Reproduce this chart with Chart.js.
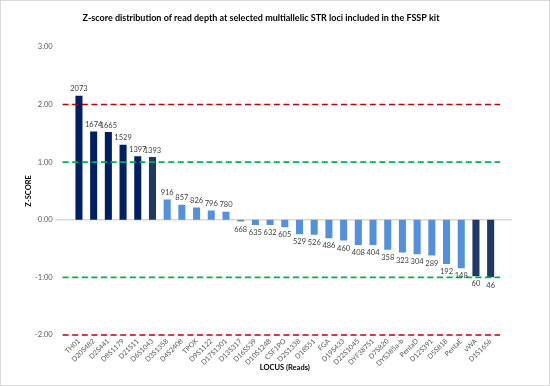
<!DOCTYPE html>
<html>
<head>
<meta charset="utf-8">
<script src="https://cdn.jsdelivr.net/npm/chart.js@4.4.1/dist/chart.umd.min.js"></script>
<style>
  html, body { margin: 0; padding: 0; background: #fff; }
</style>
</head>
<body>
<canvas id="zScoreChart" width="550" height="386"></canvas>
<script>
const loci = ['TH01', 'D20S482', 'D2S441', 'D8S1179', 'D21S11', 'D6S1043', 'D3S1358', 'D4S2408',
  'TPOX', 'D9S1122', 'D17S1301', 'D13S317', 'D16S539', 'D10S1248', 'CSF1PO', 'D2S1338', 'D18S51',
  'FGA', 'D19S433', 'D22S1045', 'DYF387S1', 'D7S820', 'DYS385a-b', 'PentaD', 'D12S391', 'D5S818',
  'PentaE', 'vWA', 'D1S1656'];
const reads = [2073, 1674, 1665, 1529, 1397, 1393, 916, 857, 826, 796, 780, 668, 635, 632, 605,
  529, 526, 486, 460, 408, 404, 358, 323, 304, 289, 192, 148, 60, 46];
const zScores = [2.15, 1.53, 1.52, 1.30, 1.10, 1.09, 0.35, 0.26, 0.21, 0.16, 0.14, -0.03, -0.09,
  -0.09, -0.13, -0.25, -0.26, -0.32, -0.36, -0.44, -0.44, -0.52, -0.57, -0.60, -0.62, -0.77,
  -0.84, -0.98, -1.00];
const thresholds = [2, 1, -1, -2];
const thresholdColors = ['#C00000', '#00B050', '#00B050', '#C00000'];

const NAVY = '#002060';
const SLATE = '#1F3864';
const LIGHT = '#5590D8';
const barColors = loci.map((l, i) => (i < 5 ? NAVY : (i === 5 || i >= 27) ? SLATE : LIGHT));

const FONT = 'Lato, "Open Sans", sans-serif';

// white background + thin frame
const frame = {
  id: 'frame',
  beforeDraw(chart) {
    const ctx = chart.ctx;
    ctx.save();
    ctx.fillStyle = '#fff';
    ctx.fillRect(0, 0, chart.width, chart.height);
    ctx.strokeStyle = '#d9d9d9';
    ctx.lineWidth = 1;
    ctx.strokeRect(0.5, 0.5, chart.width - 1, chart.height - 1);
    ctx.restore();
  }
};

// zero line under the bars
const zeroLine = {
  id: 'zeroLine',
  beforeDatasetsDraw(chart) {
    const { ctx, chartArea } = chart;
    const y = chart.scales.y.getPixelForValue(0);
    ctx.save();
    ctx.strokeStyle = '#d9d9d9';
    ctx.lineWidth = 1.5;
    ctx.beginPath();
    ctx.moveTo(chartArea.left - 16, y);
    ctx.lineTo(chartArea.right + 14, y);
    ctx.stroke();
    ctx.restore();
  }
};

// dashed threshold lines and value labels on top
const overlays = {
  id: 'overlays',
  afterDatasetsDraw(chart) {
    const { ctx, chartArea } = chart;
    const yScale = chart.scales.y;
    ctx.save();
    ctx.lineWidth = 1.6;
    ctx.setLineDash([6, 3.6]);
    thresholds.forEach((t, i) => {
      const y = yScale.getPixelForValue(t);
      ctx.strokeStyle = thresholdColors[i];
      ctx.beginPath();
      ctx.moveTo(chartArea.left - 9, y);
      ctx.lineTo(chartArea.right + 2, y);
      ctx.stroke();
    });
    ctx.setLineDash([]);

    ctx.font = '7.5px ' + FONT;
    ctx.fillStyle = '#404040';
    ctx.textAlign = 'center';
    const meta = chart.getDatasetMeta(0);
    meta.data.forEach((bar, i) => {
      if (zScores[i] >= 0) {
        ctx.textBaseline = 'bottom';
        ctx.fillText(reads[i], bar.x, bar.y - 3);
      } else {
        ctx.textBaseline = 'top';
        ctx.fillText(reads[i], bar.x, bar.y + 4);
      }
    });
    ctx.restore();
  }
};

new Chart(document.getElementById('zScoreChart'), {
  type: 'bar',
  data: {
    labels: loci,
    datasets: [{
      label: 'Z-score',
      data: zScores,
      backgroundColor: barColors,
      categoryPercentage: 1,
      barPercentage: 0.48
    }]
  },
  options: {
    responsive: false,
    animation: false,
    layout: { padding: { left: 24, right: 52, top: 0, bottom: 14 } },
    plugins: {
      legend: { display: false },
      tooltip: { enabled: false },
      title: {
        display: true,
        text: 'Z-score distribution of read depth at selected multiallelic STR loci included in the FSSP kit',
        color: '#000',
        font: { family: FONT, size: 9, weight: 'bold' },
        padding: { top: 13, bottom: 23 }
      }
    },
    scales: {
      y: {
        min: -2,
        max: 3,
        ticks: {
          stepSize: 1,
          padding: 19,
          color: '#595959',
          font: { family: FONT, size: 7.5 },
          callback: v => v.toFixed(2)
        },
        grid: { display: false, drawTicks: false },
        border: { display: false },
        title: {
          display: true,
          text: 'Z-SCORE',
          color: '#000',
          font: { family: FONT, size: 7.5, weight: 'bold' },
          padding: { top: 0, bottom: 0 }
        },
        afterFit(scale) { scale.width = 47.6; }
      },
      x: {
        ticks: {
          minRotation: 45,
          maxRotation: 45,
          autoSkip: false,
          padding: 2,
          color: '#595959',
          font: { family: FONT, size: 7 }
        },
        grid: { display: false, drawTicks: false },
        border: { display: false },
        title: {
          display: true,
          text: 'LOCUS (Reads)',
          color: '#000',
          font: { family: FONT, size: 7.5, weight: 'bold' },
          padding: { top: 0, bottom: 0 }
        },
        afterFit(scale) { scale.height = 37; }
      }
    }
  },
  plugins: [frame, zeroLine, overlays]
});
</script>
</body>
</html>
